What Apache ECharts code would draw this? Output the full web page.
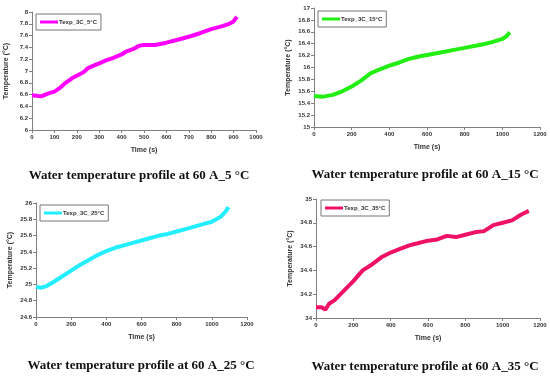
<!DOCTYPE html>
<html><head><meta charset="utf-8">
<script src="https://cdn.jsdelivr.net/npm/echarts@6/dist/echarts.min.js"></script>
<style>html,body{margin:0;padding:0;background:#fff}#c{width:550px;height:377px}</style>
</head><body><div id="c"></div>
<script>
// Panel 1: 5 °C
const t5 = [0,20,40,60,80,100,120,150,180,200,230,250,280,300,330,360,400,420,450,480,500,550,600,650,700,750,800,850,880,900,915];
const T5 = [6.59,6.58,6.57,6.6,6.63,6.65,6.7,6.8,6.88,6.92,6.98,7.05,7.1,7.13,7.18,7.22,7.28,7.33,7.37,7.43,7.44,7.44,7.48,7.53,7.58,7.64,7.71,7.76,7.8,7.84,7.92];
// Panel 2: 15 °C
const t15 = [0,50,100,150,200,250,300,350,400,450,500,550,600,650,700,750,800,850,900,950,1000,1020,1040];
const T15 = [15.52,15.51,15.54,15.6,15.68,15.78,15.9,15.97,16.03,16.08,16.14,16.18,16.21,16.24,16.27,16.3,16.33,16.36,16.39,16.43,16.48,16.52,16.59];
// Panel 3: 25 °C
const t25 = [0,30,60,100,150,200,250,300,350,400,450,500,550,600,650,700,750,800,850,900,950,1000,1050,1080,1095];
const T25 = [24.97,24.96,24.98,25.03,25.1,25.17,25.24,25.3,25.36,25.41,25.45,25.48,25.51,25.54,25.57,25.6,25.62,25.65,25.68,25.71,25.74,25.77,25.83,25.9,25.95];
// Panel 4: 35 °C
const t35 = [0,30,50,70,100,150,200,250,300,350,400,450,500,550,600,650,700,750,800,850,900,950,1000,1050,1100,1140];
const T35 = [34.09,34.09,34.07,34.12,34.15,34.23,34.31,34.4,34.45,34.51,34.55,34.58,34.61,34.63,34.65,34.66,34.69,34.68,34.7,34.72,34.73,34.78,34.8,34.82,34.87,34.9];

const names = ['Texp_3C_5°C','Texp_3C_15°C','Texp_3C_25°C','Texp_3C_35°C'];
const captions = ['Water temperature profile at 60 A_5 °C','Water temperature profile at 60 A_15 °C','Water temperature profile at 60 A_25 °C','Water temperature profile at 60 A_35 °C'];
const colors = ['#ff00ff','#22ee11','#22eeff','#ee1166'];
const xRanges = [[0,1000,100],[0,1200,200],[0,1200,200],[0,1200,200]];
const yRanges = [[6,8,0.2],[15,17,0.2],[24.6,26,0.2],[34,35,0.2]];
const times = [t5,t15,t25,t35];
const temps = [T5,T15,T25,T35];

const grids = [
  {left:32, top:12, width:224, height:118},
  {left:314, top:8, width:226, height:119},
  {left:36, top:203, width:211, height:114},
  {left:316, top:199, width:224, height:119}
];
const capPos = [[134,164],[420,163],[136,354],[420,355]];
const legPos = [[36,14],[318,11],[40,205],[321,200]];

const axisLine = {show:true, lineStyle:{color:'#808080', width:1}};
const axisTick = {show:true, inside:false, length:3, lineStyle:{color:'#808080'}};
const lab = {fontSize:6, color:'#333', fontFamily:'Liberation Sans', fontWeight:'bold', margin:4};

const option = {
  animation:false,
  backgroundColor:'#fff',
  grid: grids,
  title: captions.map((c,i)=>({text:c, left:capPos[i][0], top:capPos[i][1], textAlign:'center',
    textStyle:{fontFamily:'Liberation Serif', fontWeight:'bold', fontSize:13, color:'#111'}})),
  legend: names.map((n,i)=>({data:[n], left:legPos[i][0], top:legPos[i][1], orient:'vertical',
    borderColor:'#777', borderWidth:1, padding:[5,4,5,4], itemWidth:18, itemHeight:3, itemGap:0,
    icon:'rect', textStyle:{fontSize:6, color:'#333', fontFamily:'Liberation Sans', fontWeight:'bold', padding:[0,0,0,-4]}})),
  xAxis: xRanges.map((r,i)=>({type:'value', gridIndex:i, min:r[0], max:r[1], interval:r[2],
    name:'Time (s)', nameLocation:'middle', nameGap:17,
    nameTextStyle:{fontSize:7, color:'#333', fontFamily:'Liberation Sans', fontWeight:'bold'},
    axisLine, axisTick, axisLabel:Object.assign({}, lab, {formatter:v=>String(v)}), splitLine:{show:false}})),
  yAxis: yRanges.map((r,i)=>({type:'value', gridIndex:i, min:r[0], max:r[1], interval:r[2],
    name:'Temperature (°C)', nameLocation:'middle', nameGap:22,
    nameTextStyle:{fontSize:7, color:'#333', fontFamily:'Liberation Sans', fontWeight:'bold'},
    axisLine, axisTick, axisLabel:Object.assign({}, lab, {formatter:v=>String(+v.toFixed(1))}), splitLine:{show:false}})),
  series: names.map((n,i)=>({name:n, type:'line', xAxisIndex:i, yAxisIndex:i, showSymbol:false,
    color:colors[i], lineStyle:{width:4, color:colors[i]},
    data: times[i].map((t,k)=>[t, temps[i][k]])}))
};
const chart = echarts.init(document.getElementById('c'), null, {renderer:'canvas'});
chart.setOption(option);
</script></body></html>
